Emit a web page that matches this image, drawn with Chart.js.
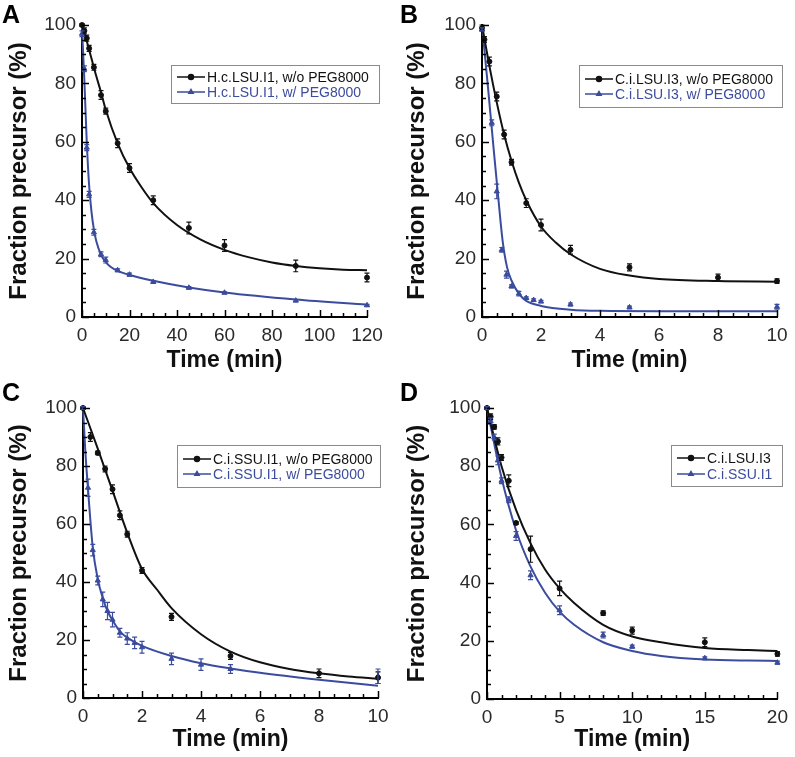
<!DOCTYPE html>
<html>
<head>
<meta charset="utf-8">
<script src="https://cdn.jsdelivr.net/npm/chart.js@4.4.0/dist/chart.umd.min.js"></script>
<style>
  html, body { margin: 0; padding: 0; background: #fff; }
  #wrap { position: relative; width: 795px; height: 757px; }
  .panel { position: absolute; }
</style>
</head>
<body>
<div id="wrap">
  <div class="panel" style="left:0;top:0;width:397px;height:378px"><canvas id="chartA"></canvas></div>
  <div class="panel" style="left:398px;top:0;width:397px;height:378px"><canvas id="chartB"></canvas></div>
  <div class="panel" style="left:0;top:378px;width:397px;height:379px"><canvas id="chartC"></canvas></div>
  <div class="panel" style="left:398px;top:378px;width:397px;height:379px"><canvas id="chartD"></canvas></div>
</div>
<script>
// ─── DATA ─────────────────────────────────────────────────
// A: H.c.LSU.I1
const timeA      = [0, 1, 2, 3, 5, 8, 10, 15, 20, 30, 45, 60, 90, 120];
const noPegA     = [100, 98, 95.5, 92, 85.5, 76, 70.5, 59.5, 51, 40, 30.5, 24.5, 17.5, 13.5];
const noPegErrA  = [0.5, 1, 1, 1, 1, 1.5, 1, 1.5, 1.5, 1.5, 2, 2, 2, 1.5];
const pegA       = [97, 85, 58, 42, 29, 21.5, 19.5, 16, 14.5, 12, 10, 8.3, 5.6, 4];
const pegErrA    = [1, 1, 1, 1, 1, 0.8, 1, 0.5, 0.5, 0.4, 0.4, 0.3, 0.3, 0.3];
const fitTimeNoPegA = [0, 2, 4, 6, 8, 10, 15, 20, 25, 30, 40, 50, 60, 70, 80, 90, 100, 110, 120];
const fitNoPegA     = [100, 94.5, 88.5, 82.5, 77, 71, 59.5, 51, 44.5, 39, 31.5, 26.5, 23, 20.5, 18.7, 17.5, 16.7, 16.2, 16];
const fitTimePegA   = [0, 1, 2, 3, 4, 5, 6, 8, 10, 12, 15, 20, 30, 45, 60, 90, 120];
const fitPegA       = [99, 81, 60, 45, 36, 30, 26, 21.3, 18.8, 17.2, 15.8, 14.4, 12.4, 10.1, 8.4, 6, 4.2];

// B: C.i.LSU.I3
const timeNoPegB = [0, 0.083, 0.25, 0.5, 0.75, 1, 1.5, 2, 3, 5, 8, 10];
const noPegB     = [99, 95, 87.5, 75.5, 62.5, 53, 39, 31.5, 23, 17, 13.5, 12.3];
const noPegErrB  = [1, 1, 1.5, 1.5, 1.5, 1, 1.5, 2, 1.5, 1.2, 1.2, 0.8];
const timePegB   = [0, 0.33, 0.5, 0.67, 0.83, 1, 1.25, 1.5, 1.75, 2, 3, 5, 10];
const pegB       = [98.5, 66.5, 43, 23, 14.5, 10.5, 8, 6.5, 5.8, 5.3, 4.3, 3.3, 3.5];
const pegErrB    = [0.5, 1, 2.5, 0.8, 1.2, 0.5, 0.8, 0.4, 0.4, 0.4, 0.5, 0.4, 0.8];
const fitTimeNoPegB = [0, 0.25, 0.5, 0.75, 1, 1.25, 1.5, 2, 2.5, 3, 4, 5, 6, 8, 10];
const fitNoPegB     = [100, 86, 73.5, 62.5, 53.5, 46, 40, 31, 25.5, 21.5, 16.5, 14.2, 13, 12.3, 12.1];
const fitTimePegB   = [0, 0.2, 0.4, 0.55, 0.7, 0.85, 1, 1.25, 1.5, 2, 3, 4, 6, 10];
const fitPegB       = [100, 79, 57, 41, 26, 17, 12.5, 8, 5.5, 3.8, 2.5, 2.1, 2, 2];

// C: C.i.SSU.I1
const timeNoPegC = [0, 0.25, 0.5, 0.75, 1, 1.25, 1.5, 2, 3, 5, 8, 10];
const noPegC     = [100, 90, 84.5, 79, 72, 63, 56.5, 44, 28, 14.5, 8.5, 7];
const noPegErrC  = [0.5, 1.5, 0.6, 1, 1.5, 1.5, 1, 1, 1.2, 1.2, 1.5, 2];
const timePegC   = [0, 0.17, 0.33, 0.5, 0.67, 0.83, 1, 1.25, 1.5, 1.75, 2, 3, 4, 5, 10];
const pegC       = [100, 72.5, 51, 40.5, 34, 30, 27, 22.5, 20.5, 19, 17.5, 13.5, 11.5, 10, 7.5];
const pegErrC    = [0.5, 3, 2, 1.5, 2.5, 3, 2.5, 1.5, 2, 2, 2, 2, 2, 1.5, 2.5];
const fitTimeNoPegC = [0, 0.5, 1, 1.5, 2, 2.5, 3, 4, 5, 6, 7, 8, 9, 10];
const fitNoPegC     = [100, 86, 71.5, 57, 44.5, 37.5, 31, 22, 16, 12.3, 10, 8.5, 7.4, 6.6];
const fitTimePegC   = [0, 0.08, 0.17, 0.33, 0.5, 0.67, 0.83, 1, 1.25, 1.5, 2, 3, 4, 5, 6, 8, 10];
const fitPegC       = [100, 85, 72, 52, 41, 34.5, 30, 26.8, 23, 20.8, 18, 14.5, 12, 10.2, 8.7, 6.3, 4.2];

// D: C.i.LSU.I3 vs C.i.SSU.I1
const timeD      = [0, 0.25, 0.5, 0.75, 1, 1.5, 2, 3, 5, 8, 10, 15, 20];
const lsuD       = [100, 97, 93.5, 88.5, 83, 75, 60.5, 51.5, 38, 29.5, 23.5, 19.5, 15.5];
const lsuErrD    = [0.5, 1, 0.8, 1.2, 1, 2, 0.5, 4.5, 2.5, 0.8, 1.2, 1.5, 0.8];
const ssuD       = [100, 95.5, 90, 82, 75, 68.5, 56, 42.5, 30.5, 22, 18, 14, 12.5];
const ssuErrD    = [0.5, 1, 1, 1.5, 1, 1, 1.5, 1.5, 1.5, 1, 0.5, 0.5, 0.5];
const fitTimeD   = [0, 1, 2, 3, 4, 5, 6, 8, 10, 12, 15, 18, 20];
const fitLsuD    = [100, 80, 65, 53.5, 44.5, 38, 33, 25.5, 21.5, 19.5, 17.5, 16.8, 16.5];
const fitSsuD    = [100, 76, 58, 45.5, 36.5, 30, 25.5, 19.5, 16.5, 14.8, 13.6, 13.2, 13.1];

// tick labels
const yTicks   = [0, 20, 40, 60, 80, 100];
const xTicksA  = [0, 20, 40, 60, 80, 100, 120];
const xTicksBC = [0, 2, 4, 6, 8, 10];
const xTicksD  = [0, 5, 10, 15, 20];

// ─── STYLE ────────────────────────────────────────────────
const BLACK = '#111111';
const BLUE = '#3b4c9e';
const FONT = "'Liberation Sans', Arial, Helvetica, sans-serif";
Chart.defaults.font.family = FONT;
Chart.defaults.animation = false;

const pts = (xs, ys) => xs.map((x, i) => ({ x: x, y: ys[i] }));

function points(label, xs, ys, errs, color, style) {
    return {
        label: label,
        data: pts(xs, ys),
        errors: errs,
        showLine: false,
        pointStyle: style,
        pointRadius: style === 'triangle' ? 3 : 2.5,
        pointBackgroundColor: color,
        pointBorderColor: color,
        pointBorderWidth: 1,
        borderColor: color,
        clip: false,
        order: 1
    };
}

function fit(xs, ys, color) {
    return {
        data: pts(xs, ys),
        showLine: true,
        pointRadius: 0,
        borderColor: color,
        borderWidth: 2,
        cubicInterpolationMode: 'monotone',
        clip: false,
        order: 2
    };
}

// ─── DECOR PLUGIN: error bars, inward ticks, legend box, letter ──
const panelDecor = {
    id: 'panelDecor',
    afterDatasetsDraw(chart) {
        const ctx = chart.ctx, xs = chart.scales.x, ys = chart.scales.y;
        chart.data.datasets.forEach(ds => {
            if (!ds.errors) return;
            ctx.save();
            ctx.strokeStyle = ds.borderColor;
            ctx.lineWidth = 1.2;
            ds.data.forEach((p, j) => {
                const e = ds.errors[j];
                const px = xs.getPixelForValue(p.x);
                const t = ys.getPixelForValue(p.y + e), b = ys.getPixelForValue(p.y - e);
                ctx.beginPath();
                ctx.moveTo(px, t); ctx.lineTo(px, b);
                ctx.moveTo(px - 2.5, t); ctx.lineTo(px + 2.5, t);
                ctx.moveTo(px - 2.5, b); ctx.lineTo(px + 2.5, b);
                ctx.stroke();
            });
            ctx.restore();
        });
    },
    afterDraw(chart, args, opts) {
        const ctx = chart.ctx, xs = chart.scales.x, ys = chart.scales.y;
        const area = chart.chartArea;
        ctx.save();
        ctx.strokeStyle = '#000';
        ctx.lineWidth = 1.5;
        // inward tick marks
        for (let v = xs.min; v <= xs.max + 1e-9; v += opts.xMinor) {
            const px = Math.round(xs.getPixelForValue(v)) + 0.5;
            const len = opts.xMajor.includes(Math.round(v * 100) / 100) ? 7 : 4;
            ctx.beginPath(); ctx.moveTo(px, area.bottom); ctx.lineTo(px, area.bottom - len); ctx.stroke();
        }
        for (let v = ys.min; v <= ys.max + 1e-9; v += opts.yMinor) {
            const py = Math.round(ys.getPixelForValue(v)) + 0.5;
            const len = yTicks.includes(v) ? 7 : 4;
            ctx.beginPath(); ctx.moveTo(area.left, py); ctx.lineTo(area.left + len, py); ctx.stroke();
        }
        // legend box
        const lg = opts.legend;
        ctx.lineWidth = 1;
        ctx.strokeStyle = '#8a8a8a';
        ctx.fillStyle = '#fff';
        ctx.fillRect(lg.x, lg.y, lg.w, lg.h);
        ctx.strokeRect(lg.x + 0.5, lg.y + 0.5, lg.w, lg.h);
        ctx.font = '14px ' + FONT;
        ctx.textBaseline = 'middle';
        lg.rows.forEach((r, i) => {
            const cy = lg.y + lg.rowTop + i * lg.rowGap;
            ctx.strokeStyle = r.color;
            ctx.lineWidth = 1.5;
            ctx.beginPath(); ctx.moveTo(lg.x + 6, cy); ctx.lineTo(lg.x + 34, cy); ctx.stroke();
            Chart.helpers.drawPoint(ctx, { pointStyle: r.style, radius: 2.5, borderWidth: 1, rotation: 0 }, lg.x + 20, cy);
            ctx.fillStyle = r.color;
            ctx.fill();
            ctx.fillText(r.text, lg.x + 36, cy + 1);
        });
        // panel letter
        ctx.fillStyle = '#000';
        ctx.font = 'bold 25px ' + FONT;
        ctx.textBaseline = 'alphabetic';
        ctx.fillText(opts.letter, 2, 23);
        ctx.restore();
    }
};

function makePanel(id, cfg) {
    new Chart(document.getElementById(id), {
        type: 'scatter',
        data: { datasets: cfg.datasets },
        plugins: [panelDecor],
        options: {
            responsive: true,
            maintainAspectRatio: false,
            layout: { padding: { left: 0, right: cfg.padRight, top: cfg.padTop, bottom: 0 } },
            plugins: {
                legend: { display: false },
                tooltip: { enabled: false },
                panelDecor: {
                    letter: cfg.letter,
                    xMinor: cfg.xMinor,
                    xMajor: cfg.xTicks,
                    yMinor: 5,
                    legend: cfg.legend
                }
            },
            scales: {
                x: {
                    type: 'linear',
                    min: 0, max: cfg.xTicks[cfg.xTicks.length - 1],
                    afterBuildTicks: s => { s.ticks = cfg.xTicks.map(v => ({ value: v })); },
                    afterFit: s => { s.height = cfg.xHeight; },
                    grid: { display: false, drawTicks: false },
                    border: { display: true, color: '#000', width: 2 },
                    ticks: { padding: 7, color: '#2a2a2a', font: { size: 19 } },
                    title: { display: true, text: 'Time (min)', color: '#111', padding: 4,
                             font: { size: 23, weight: 'bold' } }
                },
                y: {
                    min: 0, max: 100,
                    afterBuildTicks: s => { s.ticks = yTicks.map(v => ({ value: v })); },
                    afterFit: s => { s.width = cfg.yWidth; },
                    grid: { display: false, drawTicks: false },
                    border: { display: true, color: '#000', width: 2 },
                    ticks: { padding: 6, color: '#2a2a2a', font: { size: 19 } },
                    title: { display: true, text: 'Fraction precursor (%)', color: '#111', padding: 5,
                             font: { size: 24, weight: 'bold' } }
                }
            }
        }
    });
}

// ─── PANELS ───────────────────────────────────────────────
makePanel('chartA', {
    letter: 'A', xTicks: xTicksA, xMinor: 5, yWidth: 82, xHeight: 61, padRight: 30, padTop: 25,
    datasets: [
        fit(fitTimeNoPegA, fitNoPegA, BLACK),
        fit(fitTimePegA, fitPegA, BLUE),
        points('H.c.LSU.I1, w/o PEG8000', timeA, noPegA, noPegErrA, BLACK, 'circle'),
        points('H.c.LSU.I1, w/ PEG8000', timeA, pegA, pegErrA, BLUE, 'triangle')
    ],
    legend: { x: 171, y: 65, w: 208, h: 38, rowTop: 12, rowGap: 15, rows: [
        { text: 'H.c.LSU.I1, w/o PEG8000', color: BLACK, style: 'circle' },
        { text: 'H.c.LSU.I1, w/ PEG8000', color: BLUE, style: 'triangle' }
    ] }
});

makePanel('chartB', {
    letter: 'B', xTicks: xTicksBC, xMinor: 0.5, yWidth: 84, xHeight: 61, padRight: 18, padTop: 25,
    datasets: [
        fit(fitTimeNoPegB, fitNoPegB, BLACK),
        fit(fitTimePegB, fitPegB, BLUE),
        points('C.i.LSU.I3, w/o PEG8000', timeNoPegB, noPegB, noPegErrB, BLACK, 'circle'),
        points('C.i.LSU.I3, w/ PEG8000', timePegB, pegB, pegErrB, BLUE, 'triangle')
    ],
    legend: { x: 181, y: 65, w: 203, h: 42, rowTop: 14, rowGap: 15, rows: [
        { text: 'C.i.LSU.I3, w/o PEG8000', color: BLACK, style: 'circle' },
        { text: 'C.i.LSU.I3, w/ PEG8000', color: BLUE, style: 'triangle' }
    ] }
});

makePanel('chartC', {
    letter: 'C', xTicks: xTicksBC, xMinor: 0.5, yWidth: 83, xHeight: 59, padRight: 19, padTop: 30,
    datasets: [
        fit(fitTimeNoPegC, fitNoPegC, BLACK),
        fit(fitTimePegC, fitPegC, BLUE),
        points('C.i.SSU.I1, w/o PEG8000', timeNoPegC, noPegC, noPegErrC, BLACK, 'circle'),
        points('C.i.SSU.I1, w/ PEG8000', timePegC, pegC, pegErrC, BLUE, 'triangle')
    ],
    legend: { x: 177, y: 67, w: 203, h: 42, rowTop: 14, rowGap: 15, rows: [
        { text: 'C.i.SSU.I1, w/o PEG8000', color: BLACK, style: 'circle' },
        { text: 'C.i.SSU.I1, w/ PEG8000', color: BLUE, style: 'triangle' }
    ] }
});

makePanel('chartD', {
    letter: 'D', xTicks: xTicksD, xMinor: 1, yWidth: 89, xHeight: 58, padRight: 15, padTop: 30,
    datasets: [
        fit(fitTimeD, fitLsuD, BLACK),
        fit(fitTimeD, fitSsuD, BLUE),
        points('C.i.LSU.I3', timeD, lsuD, lsuErrD, BLACK, 'circle'),
        points('C.i.SSU.I1', timeD, ssuD, ssuErrD, BLUE, 'triangle')
    ],
    legend: { x: 273, y: 67, w: 111, h: 41, rowTop: 13, rowGap: 16, rows: [
        { text: 'C.i.LSU.I3', color: BLACK, style: 'circle' },
        { text: 'C.i.SSU.I1', color: BLUE, style: 'triangle' }
    ] }
});
</script>
</body>
</html>
